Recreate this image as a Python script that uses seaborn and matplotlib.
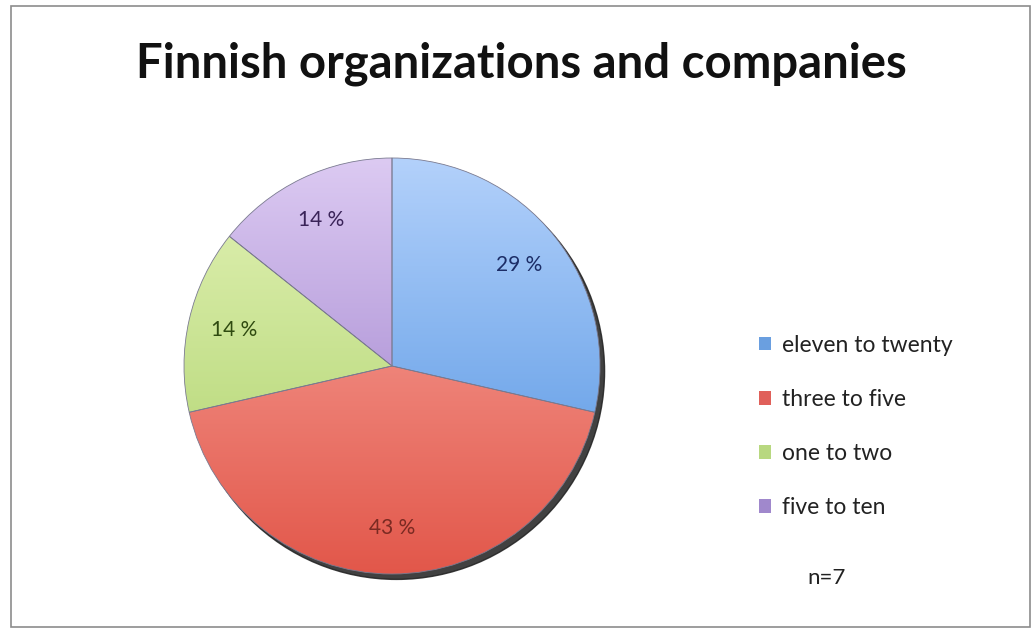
import numpy as np
import matplotlib
matplotlib.use("Agg")
import matplotlib.pyplot as plt
import matplotlib.colors as mcolors
from matplotlib.patches import Rectangle, Circle
import seaborn as sns

# data (n=7 respondents)
labels = ["eleven to twenty", "three to five", "one to two", "five to ten"]
counts = [2, 3, 1, 1]
title = "Finnish organizations and companies"
note = "n=7"

# light (top) -> dark (bottom) shades for each slice
light_cols = ["#b3d1fb", "#fbb0a8", "#e4f3b8", "#dccaf2"]
dark_cols = ["#4b8fe0", "#e2574a", "#a9d066", "#9474c6"]
legend_cols = ["#6a9fe0", "#e0605a", "#b8d880", "#a088cc"]
pct_cols = ["#1c2d66", "#7a2a22", "#2f4a10", "#3a2358"]

sns.set_theme(style="white")
plt.rcParams["font.family"] = ["Lato", "DejaVu Sans"]

fig = plt.figure(figsize=(10.36, 6.33), dpi=100)
fig.patch.set_facecolor("white")

# outer chart border
fig.add_artist(Rectangle((11 / 1036, 6 / 633), 1019 / 1036, 621 / 633,
                         transform=fig.transFigure, fill=False,
                         edgecolor="#8c8c8c", linewidth=1.2))

R = 208
cx, cy = 392, 633 - 366
half = R * 1.25
ax = fig.add_axes([(cx - half) / 1036, (cy - half) / 633, 2 * half / 1036, 2 * half / 633])

# drop shadow behind the pie
ax.add_patch(Circle((0.022, -0.026), 1.0, color="#202020", alpha=0.85, zorder=0))

wedges, texts, autotexts = ax.pie(
    counts, startangle=90, counterclock=False,
    colors=light_cols, autopct="%1.0f %%", pctdistance=0.78,
    wedgeprops=dict(linewidth=0.6, edgecolor="#7a7a90"),
    textprops=dict(fontsize=15))

grad = np.linspace(0, 1, 256).reshape(-1, 1)
for w, lc, dc in zip(wedges, light_cols, dark_cols):
    cmap = mcolors.LinearSegmentedColormap.from_list("g", [lc, dc])
    im = ax.imshow(grad, cmap=cmap, extent=(-1, 1, -1, 1), origin="upper",
                   aspect="auto", zorder=1.5, interpolation="bilinear")
    im.set_clip_path(w)

for w in wedges:
    w.set_zorder(1.6)
    w.set_facecolor("none")

for t, c in zip(autotexts, pct_cols):
    t.set_color(c)
    t.set_zorder(3)

ax.set_xlim(-1.25, 1.25)
ax.set_ylim(-1.25, 1.25)
ax.set_aspect("equal")
ax.axis("off")

fig.text(521 / 1036, 1 - 64 / 633, title, ha="center", va="center",
         fontsize=34, fontweight="bold", color="#111111")

handles = [Rectangle((0, 0), 1, 1, facecolor=c, edgecolor="none") for c in legend_cols]
fig.legend(handles, labels, loc="upper left", bbox_to_anchor=(738 / 1036, 1 - 314 / 633),
           frameon=False, fontsize=16.5, handlelength=0.55, handleheight=0.55,
           handletextpad=0.45, labelspacing=1.45, labelcolor="#222222")

fig.text(827 / 1036, 1 - 578 / 633, note, ha="center", va="center",
         fontsize=16, color="#222222")

fig.savefig("out.png", dpi=100, facecolor="white")
